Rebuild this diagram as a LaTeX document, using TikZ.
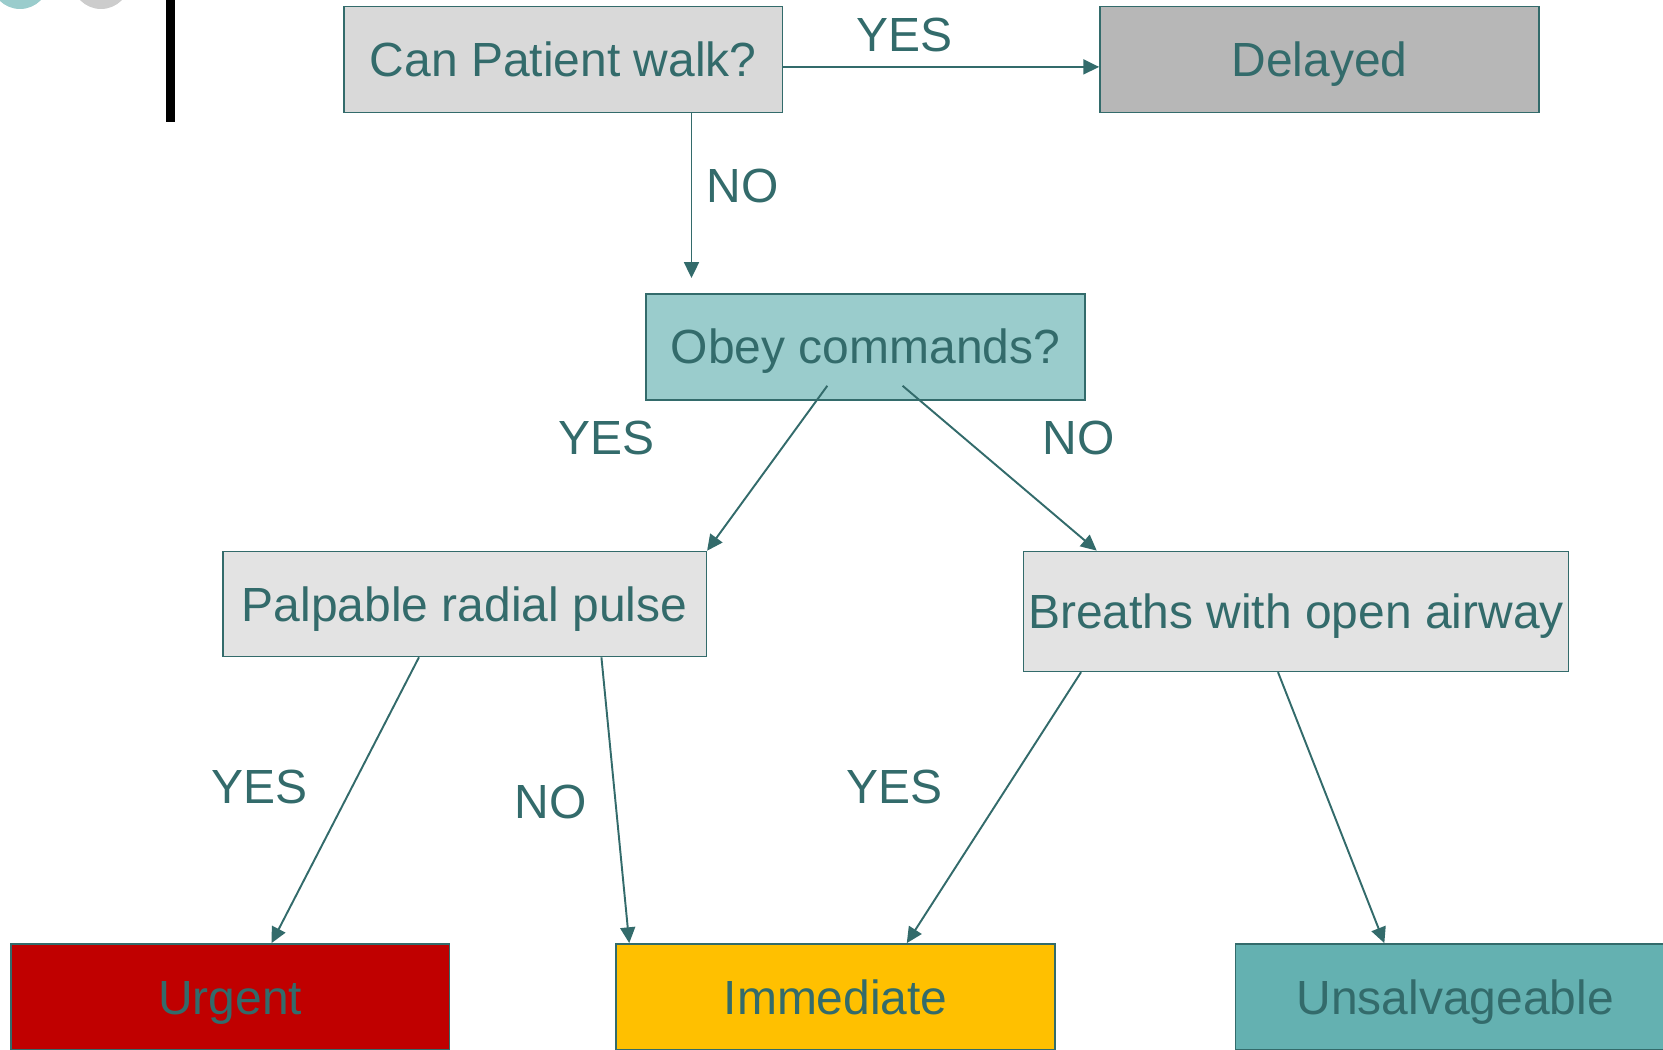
\documentclass[tikz,border=0pt]{standalone}
\usepackage{fontspec}
\setmainfont{Liberation Sans}
\usepackage{tikz}
\usetikzlibrary{arrows.meta, positioning}

\definecolor{txtteal}{HTML}{336B6B}
\definecolor{qgray}{HTML}{D9D9D9}
\definecolor{dgray}{HTML}{B7B7B7}
\definecolor{lgray}{HTML}{E3E3E3}
\definecolor{qteal}{HTML}{9ACCCC}
\definecolor{uteal}{HTML}{64B1B1}
\definecolor{ured}{HTML}{C00000}
\definecolor{iyellow}{HTML}{FFC000}

\begin{document}
\begin{tikzpicture}[x=0.02cm, y=-0.02cm,
    every node/.style={text=txtteal, font=\fontsize{27.3pt}{31pt}\selectfont},
    box/.style={draw=txtteal, line width=0.9pt, inner sep=0pt, text height=19.5pt, text depth=0pt,
        minimum width=8.78cm, minimum height=2.12cm},
    lbl/.style={inner sep=0pt},
    arr/.style={draw=txtteal, line width=1.1pt, -{Triangle[width=8.5pt, length=9pt]}}]
    \useasboundingbox (0,0) rectangle (1663,1049);
    % decoration at the top left
    \fill[qteal] (20,-20) circle (0.58cm);
    \fill[black!20] (101,-20) circle (0.58cm);
    \fill[black] (166,0) rectangle (175,122);
    % boxes
    \node[box, fill=qgray] (can) at (563.2,59.4) {Can Patient walk?};
    \node[box, fill=dgray] (del) at (1319.4,59.4) {Delayed};
    \node[box, fill=qteal] (obey) at (865.5,346.8) {Obey commands?};
    \node[box, fill=lgray, minimum width=9.67cm, minimum height=2.1cm] (pal) at (464.6,604) {Palpable radial pulse};
    \node[box, fill=lgray, minimum width=10.9cm, minimum height=2.4cm] (br) at (1296,611.4) {Breaths with open airway};
    \node[box, fill=ured] (urg) at (230.2,996.9) {Urgent};
    \node[box, fill=iyellow] (imm) at (835.7,996.9) {Immediate};
    \node[box, fill=uteal] (uns) at (1455.1,996.9) {Unsalvageable};
    % connectors
    \coordinate (noend) at (691.5,278);
    \draw[arr] ([yshift=-0.15cm]can.east) -- ([yshift=-0.15cm]del.west);
    \draw[arr] (can.south -| noend) -- (noend);
    \draw[arr] ([xshift=-0.764cm, yshift=0.296cm]obey.south) -- (pal.north east);
    \draw[arr] ([xshift=0.742cm, yshift=0.296cm]obey.south) -- ([xshift=1.48cm]br.north west);
    \draw[arr] ([xshift=-0.913cm]pal.south) -- ([xshift=0.826cm]urg.north);
    \draw[arr] ([xshift=2.737cm]pal.south) -- ([xshift=0.276cm]imm.north west);
    \draw[arr] ([xshift=1.166cm]br.south west) -- ([xshift=1.422cm]imm.north);
    \draw[arr] ([xshift=-0.36cm]br.south) -- ([xshift=2.99cm]uns.north west);
    % labels
    \node[lbl] (yes1) at (904.7,35) {YES};
    \node[lbl] (no1) at (742.4,185.6) {NO};
    \node[lbl] (yes2) at (606.7,438) {YES};
    \node[lbl] (no2) at (1078.6,438) {NO};
    \node[lbl] (yes3) at (259.8,787) {YES};
    \node[lbl] (no3) at (550.5,801.8) {NO};
    \node[lbl] (yes4) at (894.1,787) {YES};
\end{tikzpicture}
\end{document}
